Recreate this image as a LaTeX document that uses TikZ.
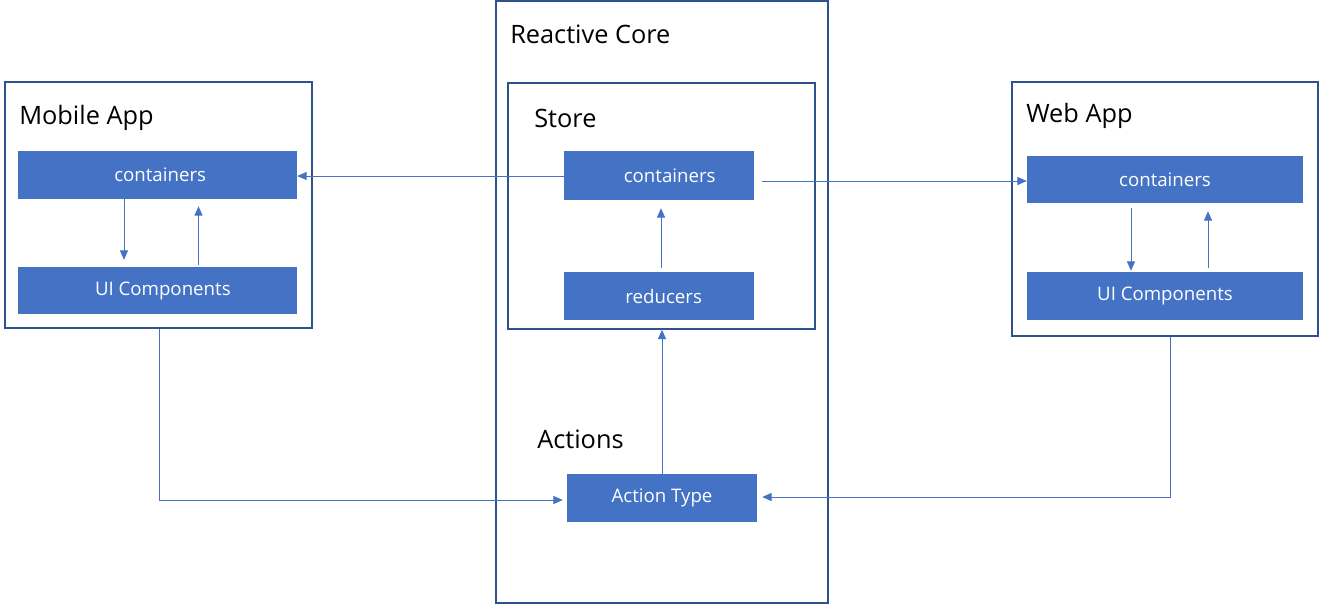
\documentclass[tikz,border=0pt]{standalone}
\usepackage{fontspec}
\setmainfont{Open Sans}
\usetikzlibrary{arrows.meta,calc}
\definecolor{boxblue}{HTML}{4472C4}
\definecolor{edgeblue}{HTML}{2F528F}
\begin{document}
\begin{tikzpicture}[x=0.75pt,y=-0.75pt,
  frame/.style={draw=edgeblue,line width=1.1pt,fill=white,inner sep=0pt},
  bluebox/.style={fill=boxblue,draw=none,text=white,font=\fontsize{14}{16}\selectfont,inner sep=0pt},
  title/.style={anchor=west,inner sep=0pt,font=\fontsize{19}{22}\selectfont,text=black},
  arr/.style={draw=boxblue,line width=0.7pt,-{Triangle[length=7pt,width=6pt]}},
  ln/.style={draw=boxblue,line width=0.7pt}]
\useasboundingbox (0,0) rectangle (1320,604);
% outer frames
\node[frame,minimum width=307*0.75pt,minimum height=246*0.75pt] (mobile) at (158.5,205) {};
\node[frame,minimum width=332*0.75pt,minimum height=602*0.75pt] (core) at (662,302) {};
\node[frame,minimum width=307*0.75pt,minimum height=246*0.75pt] (store) at (661.5,206) {};
\node[frame,minimum width=306*0.75pt,minimum height=254*0.75pt] (web) at (1165,209) {};
% titles
\node[title] (tmobile) at (19,118) {Mobile App};
\node[title] (tcore) at (510,34) {Reactive Core};
\node[title] (tstore) at (534,118) {Store};
\node[title] (tactions) at (537,439) {Actions};
\node[title] (tweb) at (1026,116) {Web App};
% blue boxes
\node[bluebox,minimum width=279*0.75pt,minimum height=48*0.75pt] (mcont) at (157.5,175) {\hspace*{4pt}containers};
\node[bluebox,minimum width=279*0.75pt,minimum height=47*0.75pt] (mui) at (157.5,290.5) {\hspace*{8pt}UI Components};
\node[bluebox,minimum width=190*0.75pt,minimum height=49*0.75pt] (scont) at (659,175.5) {\hspace*{16pt}containers};
\node[bluebox,minimum width=190*0.75pt,minimum height=48*0.75pt] (sred) at (659,296) {\hspace*{7pt}reducers};
\node[bluebox,minimum width=190*0.75pt,minimum height=48*0.75pt] (act) at (662,498) {Action Type};
\node[bluebox,minimum width=276*0.75pt,minimum height=47*0.75pt] (wcont) at (1165,179.5) {containers};
\node[bluebox,minimum width=276*0.75pt,minimum height=48*0.75pt] (wui) at (1165,296) {UI Components};
% mobile internal
\draw[arr] ($(mcont.south)+(-33.5,0)$) -- ($(mui.north)+(-33.5,-7)$);
\draw[arr] ($(mui.north)+(41,-2)$) -- ($(mcont.south)+(41,7)$);
% web internal
\draw[arr] ($(wcont.south)+(-34,5)$) -- ($(wui.north)+(-34,-1)$);
\draw[arr] ($(wui.north)+(43,-4)$) -- ($(wcont.south)+(43,8)$);
% store internal
\draw[arr] ($(sred.north)+(2,-4)$) -- ($(scont.south)+(2,8)$);
% store to apps
\draw[arr] ($(scont.west)+(0,0.5)$) -- ($(mcont.east)+(0,1)$);
\draw[arr] ($(scont.east)+(8,5.5)$) -- ($(wcont.west)+(0,1.5)$);
% actions to store
\draw[arr] (act.north) -- (act.north |- store.south);
% UI to actions
\draw[arr] ($(mobile.south)+(0.5,0)$) |- ($(act.west)+(-4,2)$);
\draw[arr] ($(web.south)+(5,0)$) |- ($(act.east)+(5,-1)$);
\end{tikzpicture}
\end{document}
